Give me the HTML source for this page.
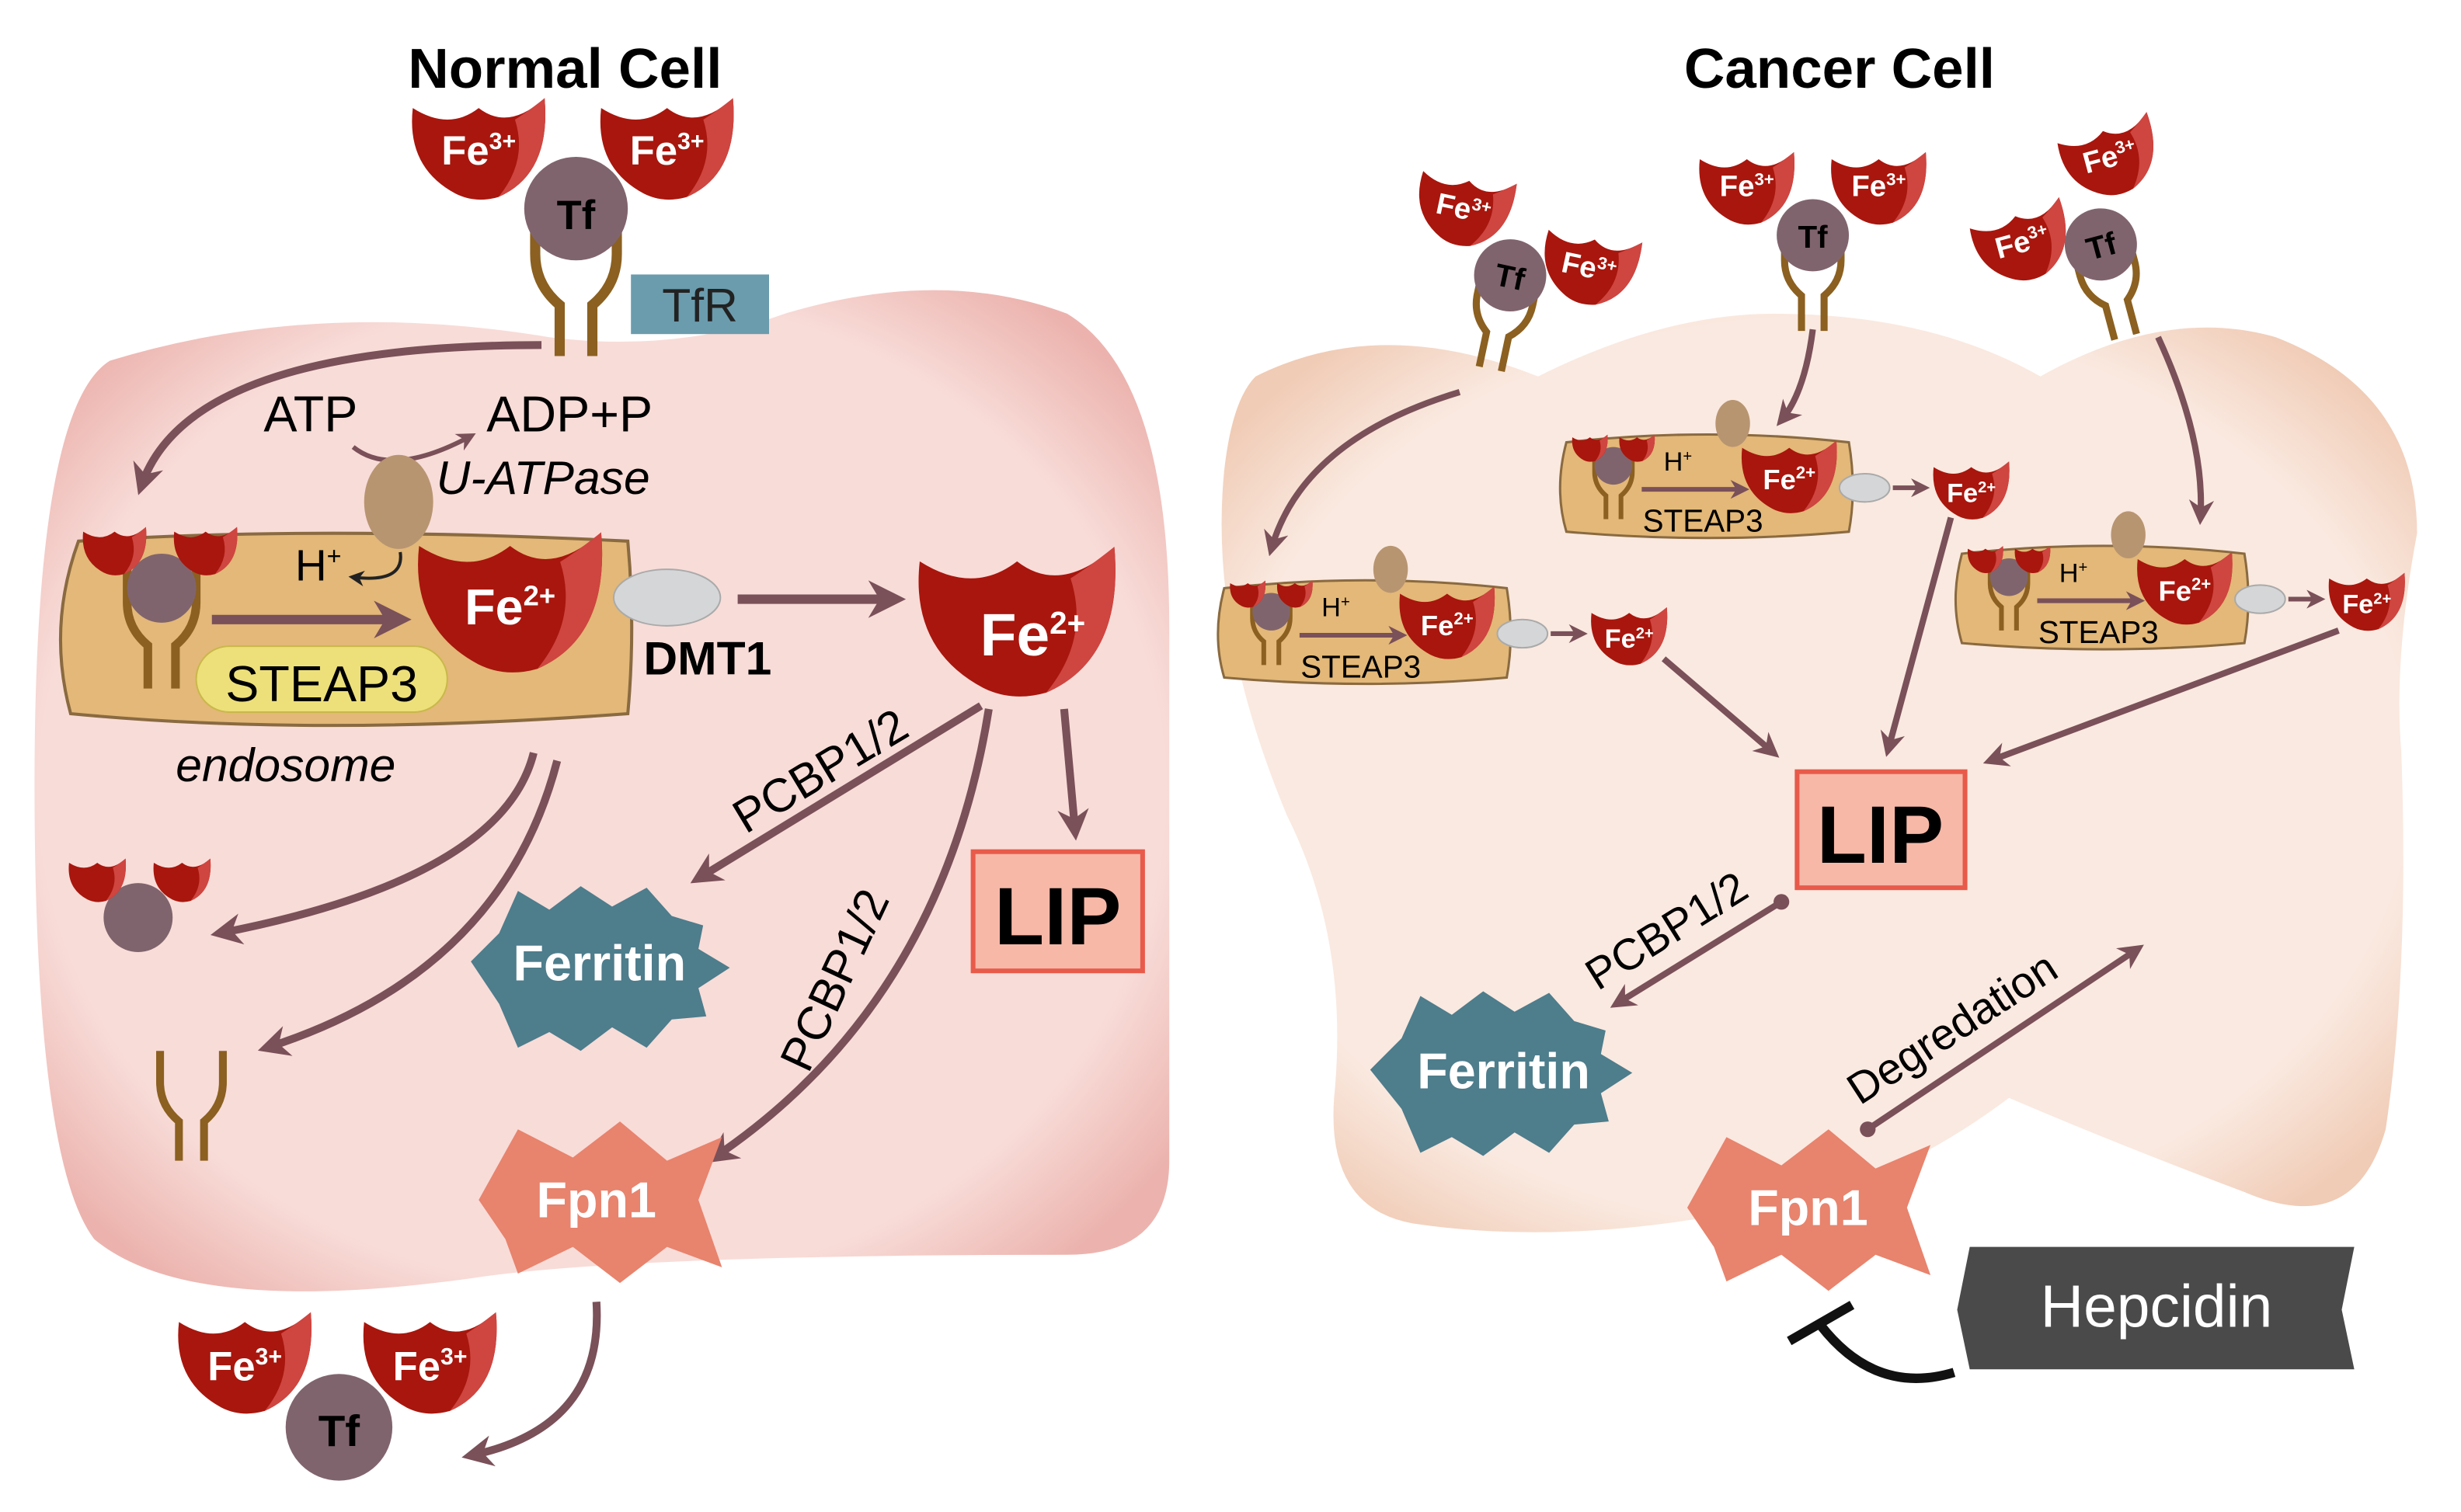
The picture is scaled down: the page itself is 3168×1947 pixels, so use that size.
<!DOCTYPE html>
<html><head><meta charset="utf-8">
<style>
html,body{margin:0;padding:0;background:#fff;}
svg{display:block;}
text{font-family:"Liberation Sans",sans-serif;}
</style></head>
<body>
<svg width="3168" height="1947" viewBox="0 0 1568 964" preserveAspectRatio="none" xmlns="http://www.w3.org/2000/svg">
<defs>
<radialGradient id="gL" cx="50%" cy="50%" r="62%">
<stop offset="0.8" stop-color="#f8dcd8"/><stop offset="1" stop-color="#ecb3ae"/></radialGradient>
<radialGradient id="gR" cx="50%" cy="50%" r="62%">
<stop offset="0.8" stop-color="#fae9e0"/><stop offset="1" stop-color="#f0cbb5"/></radialGradient>
<marker id="ah" viewBox="0 0 10 10" refX="7" refY="5" markerWidth="4" markerHeight="4" orient="auto"><path d="M0,0 L10,5 L0,10 L3,5Z" fill="#7a5059"/></marker>
<marker id="ahk" viewBox="0 0 10 10" refX="7" refY="5" markerWidth="5" markerHeight="5" orient="auto"><path d="M0,0 L10,5 L0,10 L3,5Z" fill="#222"/></marker>
<g id="cup"><path d="M-40,-22 Q-18,-8 0,-22 Q18,-8 40,-28 Q44,18 12,32 Q-2,36 -14,30 Q-44,14 -40,-22Z" fill="#a8160d"/><path d="M22,-15 Q30,-20 40,-28 Q44,18 12,32 Q30,10 22,-15Z" fill="#cf4540"/></g>
<g id="yr"><path d="M-20,-30 L-20,-10 Q-20,5 -8,15 L-8,40 M20,-30 L20,-10 Q20,5 8,15 L8,40" fill="none" stroke="#8b6020" stroke-width="5"/></g>
</defs>

<!-- Left cell -->
<path d="M70,230 Q200,190 350,215 Q430,225 500,200 Q600,170 680,200 Q745,240 745,400 L745,740 Q745,800 680,800 Q400,800 300,815 Q120,840 60,790 Q22,740 22,500 Q22,260 70,230Z" fill="url(#gL)"/>
<text x="360" y="56" font-size="36" font-weight="bold" text-anchor="middle">Normal Cell</text>
<use href="#yr" transform="translate(367,175) scale(1.3)"/>
<circle cx="367" cy="133" r="33" fill="#80646d"/>
<text x="367" y="146" font-size="26" font-weight="bold" text-anchor="middle">Tf</text>
<use href="#cup" transform="translate(305,92) scale(1.05)"/>
<use href="#cup" transform="translate(425,92) scale(1.05)"/>
<text x="305" y="105" font-size="26" font-weight="bold" fill="#fff" text-anchor="middle">Fe<tspan font-size="15" dy="-10">3+</tspan></text>
<text x="425" y="105" font-size="26" font-weight="bold" fill="#fff" text-anchor="middle">Fe<tspan font-size="15" dy="-10">3+</tspan></text>
<rect x="402" y="175" width="88" height="38" fill="#6a9cad"/>
<text x="446" y="205" font-size="30" text-anchor="middle" fill="#222">TfR</text>
<path d="M345,220 Q120,220 90,310" fill="none" stroke="#7a5059" stroke-width="5" marker-end="url(#ah)"/>
<text x="168" y="275" font-size="32">ATP</text>
<text x="310" y="275" font-size="32">ADP+P</text>
<path d="M225,285 Q250,305 300,278" fill="none" stroke="#7a5059" stroke-width="3" marker-end="url(#ah)"/>
<text x="278" y="315" font-size="30" font-style="italic">U-ATPase</text>
<path d="M50,345 Q200,335 400,345 Q405,400 400,455 Q200,470 45,455 Q30,400 50,345Z" fill="#e3b878" stroke="#8a6a40" stroke-width="2"/>
<ellipse cx="254" cy="320" rx="22" ry="30" fill="#b89571"/>
<use href="#yr" transform="translate(103,395) scale(1.1)"/>
<circle cx="103" cy="375" r="22" fill="#80646d"/>
<use href="#cup" transform="translate(73,350) scale(0.5)"/>
<use href="#cup" transform="translate(131,350) scale(0.5)"/>
<path d="M135,395 L255,395" stroke="#7a5059" stroke-width="6" marker-end="url(#ah)"/>
<text x="188" y="370" font-size="28">H<tspan font-size="16" dy="-10">+</tspan></text>
<path d="M255,352 Q258,372 225,368" fill="none" stroke="#222" stroke-width="2" marker-end="url(#ahk)"/>
<use href="#cup" transform="translate(325,380) scale(1.45)"/>
<text x="325" y="398" font-size="32" font-weight="bold" fill="#fff" text-anchor="middle">Fe<tspan font-size="18" dy="-12">2+</tspan></text>
<rect x="125" y="412" width="160" height="42" rx="21" fill="#ede07a" stroke="#c9b84a"/>
<text x="205" y="447" font-size="32" text-anchor="middle">STEAP3</text>
<ellipse cx="425" cy="381" rx="34" ry="18" fill="#d5d6d8" stroke="#aaa"/>
<text x="410" y="430" font-size="30" font-weight="bold">DMT1</text>
<text x="112" y="498" font-size="30" font-style="italic">endosome</text>
<path d="M470,382 L570,382" stroke="#7a5059" stroke-width="6" marker-end="url(#ah)"/>
<use href="#cup" transform="translate(648,392) scale(1.55)"/>
<text x="658" y="418" font-size="38" font-weight="bold" fill="#fff" text-anchor="middle">Fe<tspan font-size="20" dy="-14">2+</tspan></text>
<path d="M625,450 L445,560" stroke="#7a5059" stroke-width="5" marker-end="url(#ah)"/>
<text x="0" y="0" font-size="30" transform="translate(475,532) rotate(-31)">PCBP1/2</text>
<path d="M630,452 Q600,640 455,738" fill="none" stroke="#7a5059" stroke-width="5" marker-end="url(#ah)"/>
<text x="0" y="0" font-size="30" transform="translate(515,685) rotate(-65)">PCBP1/2</text>
<path d="M678,452 L685,530" stroke="#7a5059" stroke-width="5" marker-end="url(#ah)"/>
<rect x="620" y="543" width="108" height="76" fill="#f7b8a8" stroke="#e85a4a" stroke-width="3"/>
<text x="674" y="602" font-size="52" font-weight="bold" text-anchor="middle">LIP</text>
<path d="M300,613 L318,595 L330,568 L350,580 L370,565 L390,578 L412,566 L428,584 L448,590 L445,605 L465,617 L445,630 L450,648 L428,650 L412,668 L390,655 L370,670 L350,658 L330,668 L318,640Z" fill="#4e7d8c"/>
<text x="382" y="625" font-size="32" font-weight="bold" fill="#fff" text-anchor="middle">Ferritin</text>
<path d="M305,765 L330,720 L365,738 L395,715 L425,740 L460,725 L445,765 L460,808 L425,795 L395,818 L365,795 L330,812 L322,790Z" fill="#e8836d"/>
<text x="380" y="776" font-size="32" font-weight="bold" fill="#fff" text-anchor="middle">Fpn1</text>
<path d="M340,480 Q320,560 140,595" fill="none" stroke="#7a5059" stroke-width="5" marker-end="url(#ah)"/>
<path d="M355,485 Q320,620 170,668" fill="none" stroke="#7a5059" stroke-width="5" marker-end="url(#ah)"/>
<circle cx="88" cy="585" r="22" fill="#80646d"/>
<use href="#cup" transform="translate(62,560) scale(0.45)"/>
<use href="#cup" transform="translate(116,560) scale(0.45)"/>
<use href="#yr" transform="translate(122,700) scale(1)"/>
<path d="M380,830 Q385,910 300,928" fill="none" stroke="#7a5059" stroke-width="5" marker-end="url(#ah)"/>
<circle cx="216" cy="910" r="34" fill="#80646d"/>
<text x="216" y="922" font-size="28" font-weight="bold" text-anchor="middle">Tf</text>
<use href="#cup" transform="translate(156,866) scale(1.05)"/>
<use href="#cup" transform="translate(274,866) scale(1.05)"/>
<text x="156" y="880" font-size="26" font-weight="bold" fill="#fff" text-anchor="middle">Fe<tspan font-size="15" dy="-10">3+</tspan></text>
<text x="274" y="880" font-size="26" font-weight="bold" fill="#fff" text-anchor="middle">Fe<tspan font-size="15" dy="-10">3+</tspan></text>

<!-- Right cell -->
<path d="M800,240 Q880,200 980,240 Q1060,200 1130,200 Q1230,200 1300,240 Q1380,195 1450,215 Q1540,250 1540,340 Q1525,420 1530,480 Q1535,620 1520,720 Q1500,790 1430,760 Q1350,730 1280,700 Q1200,760 1120,770 Q1000,795 900,780 Q845,770 850,700 Q860,600 820,520 Q770,400 780,300 Q785,255 800,240Z" fill="url(#gR)"/>
<text x="1172" y="56" font-size="36" font-weight="bold" text-anchor="middle">Cancer Cell</text>
<g transform="translate(957,200) rotate(12)"><use href="#yr" transform="scale(0.9)"/><circle cx="0" cy="-25" r="23" fill="#80646d"/><text x="0" y="-17" font-size="20" font-weight="bold" text-anchor="middle">Tf</text><use href="#cup" transform="translate(-38,-62) scale(0.75)"/><use href="#cup" transform="translate(48,-42) scale(0.75)"/><text x="-38" y="-54" font-size="19" font-weight="bold" fill="#fff" text-anchor="middle">Fe<tspan font-size="11" dy="-7">3+</tspan></text><text x="48" y="-34" font-size="19" font-weight="bold" fill="#fff" text-anchor="middle">Fe<tspan font-size="11" dy="-7">3+</tspan></text></g>
<g transform="translate(1155,175)"><use href="#yr" transform="scale(0.9)"/><circle cx="0" cy="-25" r="23" fill="#80646d"/><text x="0" y="-17" font-size="20" font-weight="bold" text-anchor="middle">Tf</text><use href="#cup" transform="translate(-42,-57) scale(0.75)"/><use href="#cup" transform="translate(42,-57) scale(0.75)"/><text x="-42" y="-50" font-size="19" font-weight="bold" fill="#fff" text-anchor="middle">Fe<tspan font-size="11" dy="-7">3+</tspan></text><text x="42" y="-50" font-size="19" font-weight="bold" fill="#fff" text-anchor="middle">Fe<tspan font-size="11" dy="-7">3+</tspan></text></g>
<g transform="translate(1345,180) rotate(-15)"><use href="#yr" transform="scale(0.9)"/><circle cx="0" cy="-25" r="23" fill="#80646d"/><text x="0" y="-17" font-size="20" font-weight="bold" text-anchor="middle">Tf</text><use href="#cup" transform="translate(-48,-40) scale(0.75)"/><use href="#cup" transform="translate(20,-78) scale(0.75)"/><text x="-48" y="-33" font-size="19" font-weight="bold" fill="#fff" text-anchor="middle">Fe<tspan font-size="11" dy="-7">3+</tspan></text><text x="20" y="-71" font-size="19" font-weight="bold" fill="#fff" text-anchor="middle">Fe<tspan font-size="11" dy="-7">3+</tspan></text></g>
<path d="M930,250 Q830,280 810,350" fill="none" stroke="#7a5059" stroke-width="4" marker-end="url(#ah)"/>
<path d="M1155,210 Q1150,250 1135,268" fill="none" stroke="#7a5059" stroke-width="4" marker-end="url(#ah)"/>
<path d="M1375,215 Q1405,280 1402,330" fill="none" stroke="#7a5059" stroke-width="4" marker-end="url(#ah)"/>
<g id="e1">
<path d="M780,375 Q870,365 960,375 Q965,405 960,432 Q870,440 780,432 Q772,405 780,375Z" fill="#e3b878" stroke="#8a6a40" stroke-width="1.5"/>
<ellipse cx="886" cy="363" rx="11" ry="15" fill="#b89571"/>
<use href="#yr" transform="translate(810,400) scale(0.6)"/><circle cx="810" cy="390" r="12" fill="#80646d"/>
<use href="#cup" transform="translate(795,378) scale(0.28)"/><use href="#cup" transform="translate(825,378) scale(0.28)"/>
<path d="M828,405 L893,405" stroke="#7a5059" stroke-width="3" marker-end="url(#ah)"/>
<text x="842" y="393" font-size="17">H<tspan font-size="10" dy="-6">+</tspan></text>
<use href="#cup" transform="translate(922,395) scale(0.75)"/>
<text x="922" y="405" font-size="18" font-weight="bold" fill="#fff" text-anchor="middle">Fe<tspan font-size="11" dy="-7">2+</tspan></text>
<text x="867" y="432" font-size="20" text-anchor="middle">STEAP3</text>
<ellipse cx="970" cy="404" rx="16" ry="9" fill="#d5d6d8" stroke="#aaa"/>
<path d="M988,404 L1008,404" stroke="#7a5059" stroke-width="3" marker-end="url(#ah)"/>
<use href="#cup" transform="translate(1038,404) scale(0.6)"/>
<text x="1038" y="413" font-size="17" font-weight="bold" fill="#fff" text-anchor="middle">Fe<tspan font-size="10" dy="-6">2+</tspan></text>
</g>
<use href="#e1" transform="translate(218,-93)"/>
<use href="#e1" transform="translate(470,-22)"/>
<path d="M1060,420 L1130,480" stroke="#7a5059" stroke-width="4" marker-end="url(#ah)"/>
<path d="M1243,330 L1203,478" stroke="#7a5059" stroke-width="4" marker-end="url(#ah)"/>
<path d="M1490,402 L1268,485" stroke="#7a5059" stroke-width="4" marker-end="url(#ah)"/>
<rect x="1145" y="492" width="107" height="74" fill="#f7b8a8" stroke="#e85a4a" stroke-width="3"/>
<text x="1198" y="550" font-size="52" font-weight="bold" text-anchor="middle">LIP</text>
<circle cx="1135" cy="575" r="5" fill="#7a5059"/>
<path d="M1135,575 L1030,640" stroke="#7a5059" stroke-width="4" marker-end="url(#ah)"/>
<text x="0" y="0" font-size="28" transform="translate(1018,632) rotate(-32)">PCBP1/2</text>
<path d="M873,682 L893,662 L905,635 L925,647 L945,632 L965,645 L987,633 L1003,651 L1023,657 L1020,672 L1040,684 L1020,697 L1025,715 L1003,717 L987,735 L965,722 L945,737 L925,725 L905,735 L893,707Z" fill="#4e7d8c"/>
<text x="958" y="694" font-size="32" font-weight="bold" fill="#fff" text-anchor="middle">Ferritin</text>
<path d="M1075,770 L1100,725 L1135,743 L1165,720 L1195,745 L1230,730 L1215,770 L1230,813 L1195,800 L1165,823 L1135,800 L1100,817 L1092,795Z" fill="#e8836d"/>
<text x="1152" y="781" font-size="32" font-weight="bold" fill="#fff" text-anchor="middle">Fpn1</text>
<circle cx="1190" cy="720" r="5" fill="#7a5059"/>
<path d="M1190,720 L1362,605" stroke="#7a5059" stroke-width="4" marker-end="url(#ah)"/>
<text x="0" y="0" font-size="28" transform="translate(1185,705) rotate(-33)">Degredation</text>
<path d="M1255,795 L1500,795 L1492,835 L1500,873 L1255,873 L1247,835Z" fill="#4a4a4a"/>
<text x="1374" y="846" font-size="38" fill="#fff" text-anchor="middle">Hepcidin</text>
<path d="M1245,875 Q1195,890 1160,845" fill="none" stroke="#111" stroke-width="6"/>
<path d="M1140,855 L1180,832" stroke="#111" stroke-width="6"/>
</svg>
</body></html>
